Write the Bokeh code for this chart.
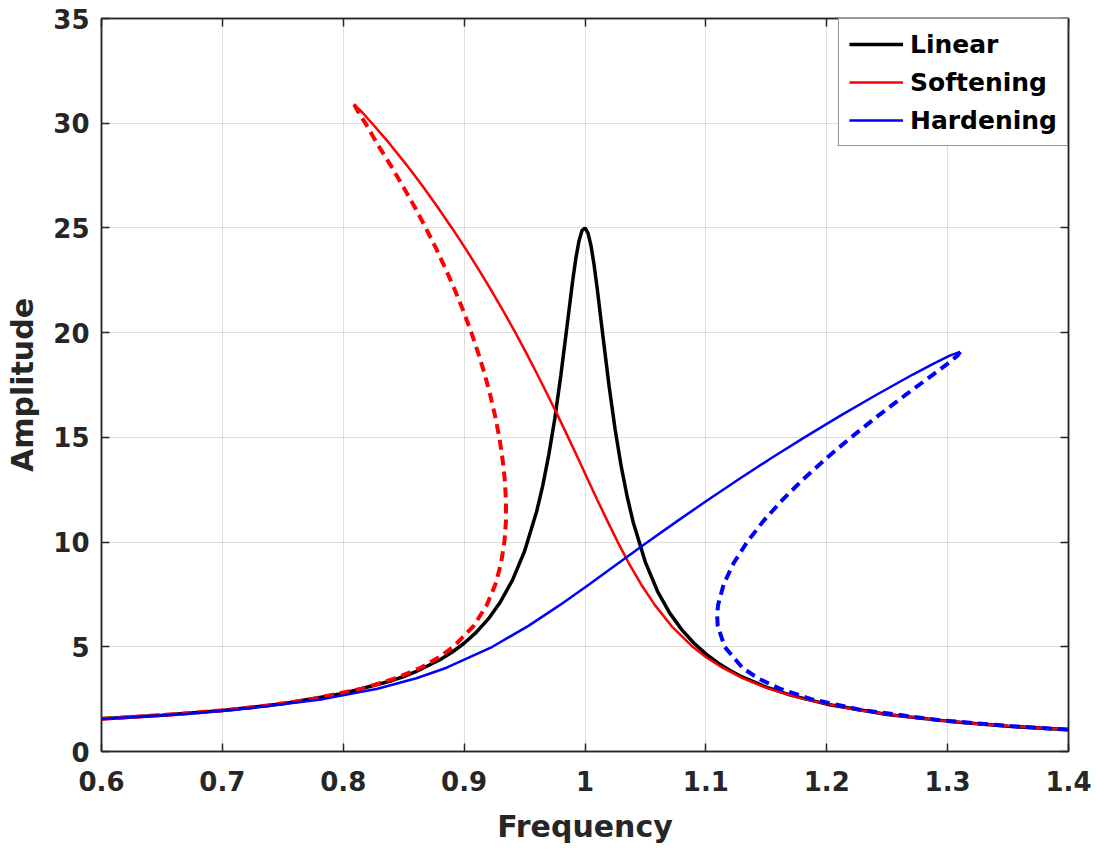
from bokeh.plotting import figure
from bokeh.models import (Range1d, LinearAxis, FixedTicker, CustomJSTickFormatter,
                          Legend, LegendItem, CustomLabelingPolicy)
from bokeh.embed import file_html
from bokeh.resources import INLINE

# ---------------- data ----------------
x_ticks = [0.6, 0.7, 0.8, 0.9, 1.0, 1.1, 1.2, 1.3, 1.4]
x_tick_labels = ["0.6", "0.7", "0.8", "0.9", "1", "1.1", "1.2", "1.3", "1.4"]
y_ticks = [0, 5, 10, 15, 20, 25, 30, 35]

linear_freq = [0.60, 0.65, 0.70, 0.75, 0.80, 0.84, 0.85, 0.86, 0.88, 0.89,
               0.90, 0.91, 0.92, 0.93, 0.94, 0.95, 0.96, 0.965, 0.97, 0.975,
               0.98, 0.985, 0.99, 0.9925, 0.995, 0.9975, 1.00, 1.0025, 1.005, 1.0075,
               1.01, 1.015, 1.02, 1.025, 1.03, 1.035, 1.04, 1.05, 1.06, 1.07,
               1.08, 1.09, 1.10, 1.11, 1.12, 1.13, 1.15, 1.17, 1.20, 1.25,
               1.30, 1.35, 1.40]
linear_amp = [1.56, 1.73, 1.96, 2.28, 2.77, 3.38, 3.58, 3.81, 4.38, 4.74,
              5.17, 5.69, 6.33, 7.14, 8.18, 9.56, 11.46, 12.68, 14.15, 15.89,
              17.95, 20.25, 22.56, 23.57, 24.37, 24.87, 25.00, 24.75, 24.14, 23.24,
              22.16, 19.76, 17.42, 15.35, 13.60, 12.14, 10.92, 9.03, 7.65, 6.62,
              5.82, 5.18, 4.66, 4.23, 3.87, 3.56, 3.07, 2.69, 2.26, 1.77,
              1.45, 1.21, 1.04]

soft_solid_freq = [0.8088, 0.8160, 0.8238, 0.8387, 0.8525, 0.8656, 0.8780, 0.8899, 0.9013, 0.9122,
                   0.9227, 0.9327, 0.9424, 0.9517, 0.9606, 0.9693, 0.9778, 0.9861, 0.9942, 1.0022,
                   1.0103, 1.0186, 1.0271, 1.0362, 1.0462, 1.0577, 1.0714, 1.0891, 1.1002, 1.1137,
                   1.1303, 1.1519, 1.1811, 1.2232, 1.2522, 1.2899, 1.3184, 1.3531, 1.4000]
soft_solid_amp = [30.91, 30.5, 30.0, 29.0, 28.0, 27.0, 26.0, 25.0, 24.0, 23.0,
                  22.0, 21.0, 20.0, 19.0, 18.0, 17.0, 16.0, 15.0, 14.0, 13.0,
                  12.0, 11.0, 10.0, 9.0, 8.0, 7.0, 6.0, 5.0, 4.5, 4.0,
                  3.5, 3.0, 2.5, 2.0, 1.75, 1.5, 1.35, 1.2, 1.04]

soft_dash_freq = [0.6000, 0.6120, 0.6663, 0.7067, 0.7380, 0.7739, 0.8155, 0.8437, 0.8641, 0.8793,
                  0.8911, 0.9079, 0.9188, 0.9260, 0.9306, 0.9333, 0.9346, 0.9346, 0.9336, 0.9317,
                  0.9291, 0.9257, 0.9217, 0.9171, 0.9118, 0.9060, 0.8996, 0.8926, 0.8850, 0.8770,
                  0.8683, 0.8591, 0.8493, 0.8391, 0.8283, 0.8183, 0.8128, 0.8088]
soft_dash_amp = [1.564, 1.6, 1.8, 2.0, 2.2, 2.5, 3.0, 3.5, 4.0, 4.5,
                 5.0, 6.0, 7.0, 8.0, 9.0, 10.0, 11.0, 12.0, 13.0, 14.0,
                 15.0, 16.0, 17.0, 18.0, 19.0, 20.0, 21.0, 22.0, 23.0, 24.0,
                 25.0, 26.0, 27.0, 28.0, 29.0, 30.0, 30.5, 30.91]

hard_solid_freq = [0.6000, 0.6719, 0.7132, 0.7833, 0.8283, 0.8605, 0.8855, 0.9234, 0.9532, 0.9794,
                   1.0039, 1.0278, 1.0518, 1.0763, 1.1013, 1.1272, 1.1539, 1.1816, 1.2103, 1.2401,
                   1.2712, 1.2876, 1.3017, 1.3104]
hard_solid_amp = [1.55, 1.8, 2.0, 2.5, 3.0, 3.5, 4.0, 5.0, 6.0, 7.0,
                  8.0, 9.0, 10.0, 11.0, 12.0, 13.0, 14.0, 15.0, 16.0, 17.0,
                  18.0, 18.5, 18.9, 19.08]

hard_dash_freq = [1.3104, 1.3082, 1.2996, 1.2880, 1.2646, 1.2418, 1.2201, 1.1996, 1.1805, 1.1631,
                  1.1475, 1.1341, 1.1230, 1.1148, 1.1101, 1.1093, 1.1098, 1.1155, 1.1302, 1.1429,
                  1.1610, 1.1872, 1.2270, 1.2919, 1.3544, 1.4000]
hard_dash_amp = [19.08, 18.9, 18.5, 18.0, 17.0, 16.0, 15.0, 14.0, 13.0, 12.0,
                 11.0, 10.0, 9.0, 8.0, 7.0, 6.5, 6.0, 5.0, 4.0, 3.5,
                 3.0, 2.5, 2.0, 1.5, 1.2, 1.045]

series_names = ["Linear", "Softening", "Hardening"]

# ---------------- styling ----------------
FONT = "DejaVu Sans"
AXC = "#262626"

p = figure(frame_width=967, frame_height=733,
           x_range=Range1d(0.6, 1.4), y_range=Range1d(0, 35),
           output_backend="svg", toolbar_location=None,
           min_border_left=101, min_border_right=28,
           min_border_top=18, min_border_bottom=101)
p.background_fill_color = "white"
p.border_fill_color = "white"
p.outline_line_color = AXC
p.outline_line_width = 1.5

xtick = FixedTicker(ticks=x_ticks)
ytick = FixedTicker(ticks=y_ticks)
xfmt = CustomJSTickFormatter(args=dict(vals=x_ticks, labels=x_tick_labels), code="""
let best = 0;
for (let i = 0; i < vals.length; i++) {
  if (Math.abs(vals[i] - tick) < Math.abs(vals[best] - tick)) best = i;
}
return labels[best];
""")

no_labels = CustomLabelingPolicy(code="""
for (const i of indices) indices.unset(i);
return indices;
""")

def style_axis(ax, show_labels=True):
    ax.axis_line_color = AXC
    ax.axis_line_width = 1.5
    ax.major_tick_line_color = AXC
    ax.major_tick_line_width = 1.5
    ax.major_tick_in = 8
    ax.major_tick_out = 0
    ax.minor_tick_line_color = None
    ax.major_label_text_font = FONT
    ax.major_label_text_font_style = "bold"
    ax.major_label_text_color = AXC
    if show_labels:
        ax.major_label_text_font_size = "26px"
    else:
        ax.major_label_policy = no_labels
        ax.major_label_text_font_size = "0px"
        ax.major_label_standoff = 0

xa = p.xaxis[0]
xa.ticker = xtick
xa.formatter = xfmt
style_axis(xa)
xa.major_label_standoff = 19
xa.axis_label = "Frequency"
xa.axis_label_text_font = FONT
xa.axis_label_text_font_style = "bold"
xa.axis_label_text_font_size = "30px"
xa.axis_label_text_color = AXC
xa.axis_label_standoff = 15

ya = p.yaxis[0]
ya.ticker = ytick
style_axis(ya)
ya.major_label_standoff = 12
ya.axis_label = "Amplitude"
ya.axis_label_text_font = FONT
ya.axis_label_text_font_style = "bold"
ya.axis_label_text_font_size = "30px"
ya.axis_label_text_color = AXC
ya.axis_label_standoff = 10

top = LinearAxis(ticker=FixedTicker(ticks=x_ticks))
style_axis(top, show_labels=False)
p.add_layout(top, "above")
right = LinearAxis(ticker=FixedTicker(ticks=y_ticks))
style_axis(right, show_labels=False)
p.add_layout(right, "right")

p.xgrid.ticker = xtick
p.ygrid.ticker = ytick
for g in (p.xgrid[0], p.ygrid[0]):
    g.grid_line_color = AXC
    g.grid_line_alpha = 0.15
    g.grid_line_width = 1

r_lin = p.line(linear_freq, linear_amp, line_color="black", line_width=3.5)
r_soft = p.line(soft_solid_freq, soft_solid_amp, line_color="#ff0000", line_width=2.5)
p.line(soft_dash_freq, soft_dash_amp, line_color="#ff0000", line_width=4, line_dash="10 6")
r_hard = p.line(hard_solid_freq, hard_solid_amp, line_color="#0000ff", line_width=2.5)
p.line(hard_dash_freq, hard_dash_amp, line_color="#0000ff", line_width=4, line_dash="10 6")

legend = Legend(items=[LegendItem(label=series_names[0], renderers=[r_lin]),
                       LegendItem(label=series_names[1], renderers=[r_soft]),
                       LegendItem(label=series_names[2], renderers=[r_hard])],
                location="top_right", margin=0, padding=10, spacing=8,
                glyph_width=54, glyph_height=30, label_standoff=7,
                label_text_font=FONT, label_text_font_style="bold",
                label_text_font_size="25px", label_text_color="black",
                border_line_color=AXC, border_line_width=1.5,
                background_fill_color="white", background_fill_alpha=1.0)
p.add_layout(legend)

open("out.html", "w").write(file_html(p, INLINE))
